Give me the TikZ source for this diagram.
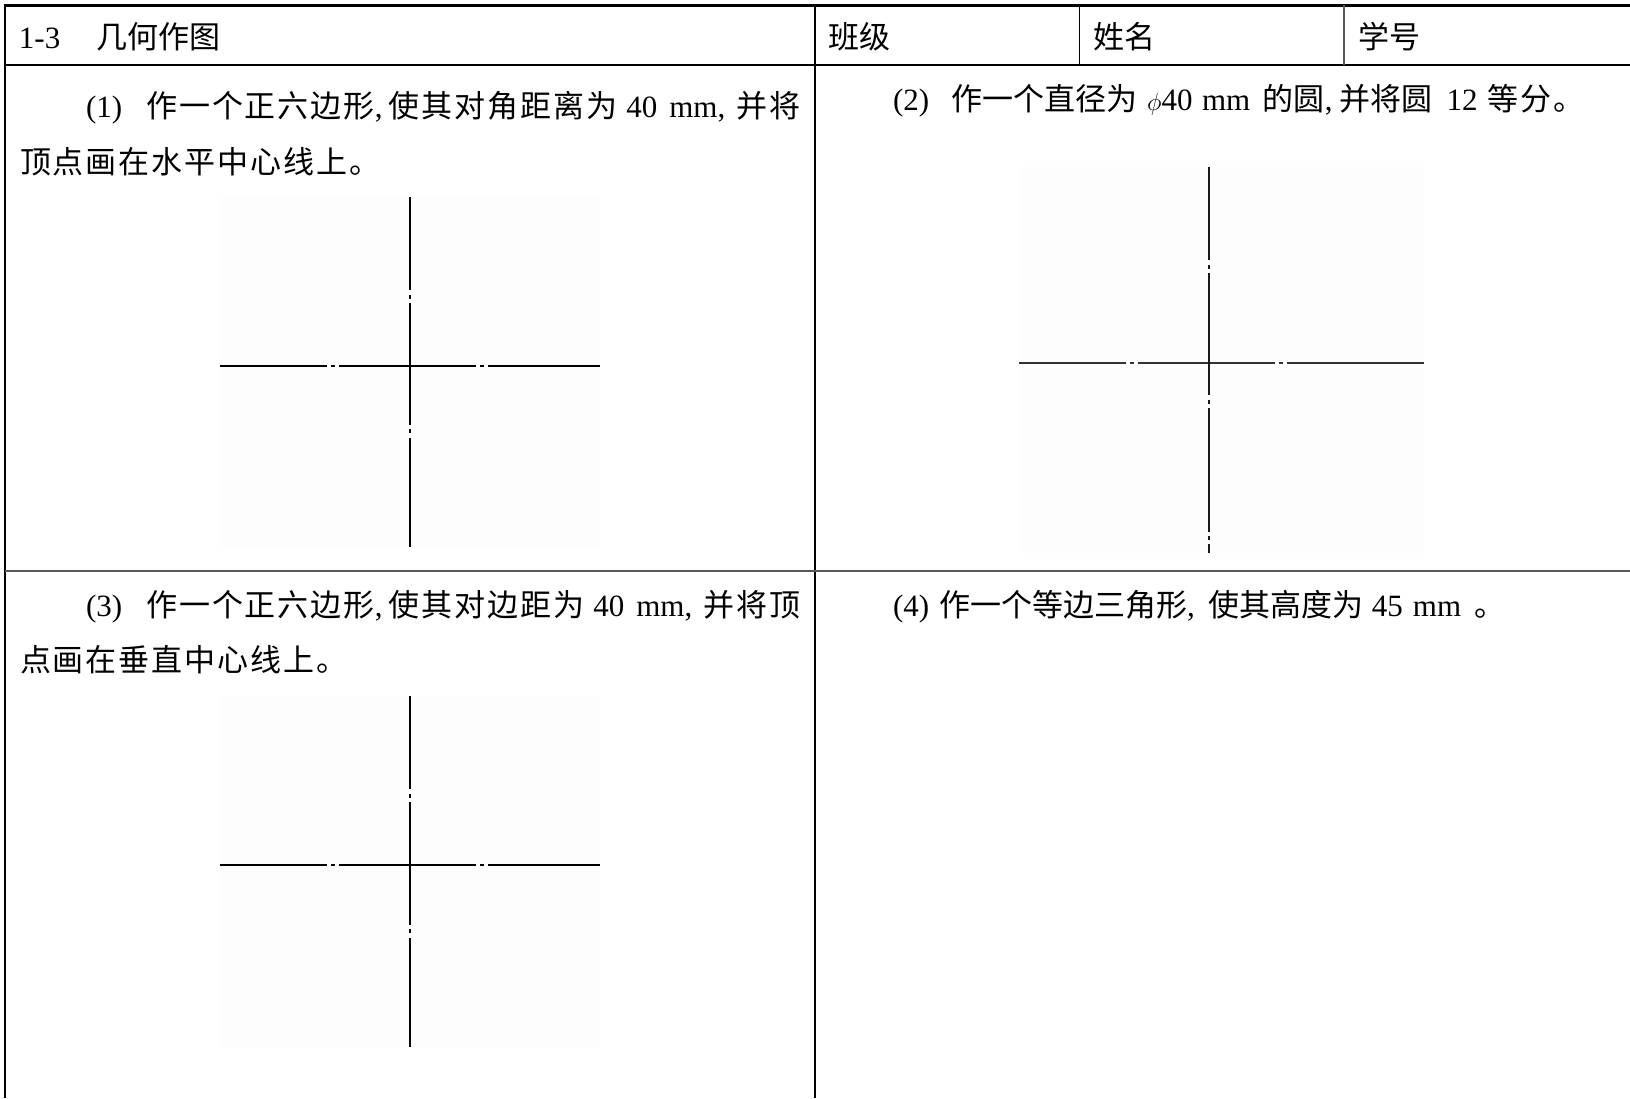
\documentclass[tikz,border=0pt]{standalone}
\usepackage{fontspec}
\setmainfont{Liberation Serif}
\newfontfamily\cjkwide[LetterSpace=6.3]{Noto Sans CJK SC}
\newfontfamily\cjknarrow{Noto Sans CJK SC}
\newcommand\zh[1]{{\cjkwide\fontsize{31}{31}\selectfont #1}}
\newcommand\zhn[1]{{\cjknarrow\fontsize{31}{31}\selectfont #1}}
\begin{document}
\begin{tikzpicture}[x=1pt,y=-1pt,
  txt/.style={anchor=base west,inner sep=0pt,outer sep=0pt,font=\fontsize{31}{31}\selectfont},
  rule/.style={line width=1.8pt,black},
  thinrule/.style={line width=1.6pt,black!65},
  cl/.style={line width=1.8pt,black},
  paper/.style={fill=black!0.6,draw=none}]
\useasboundingbox (0,0) rectangle (1630,1098);
\fill[white] (0,0) rectangle (1630,1098);
% table rules
\draw[line width=3pt] (3.5,5) -- (1630,5);
\draw[rule] (5,4) -- (5,1098);
\draw[rule] (5,65) -- (1630,65);
\draw[rule] (815,5) -- (815,1098);
\draw[rule] (1079.5,5) -- (1079.5,65);
\draw[thinrule] (1344,5) -- (1344,65);
\draw[thinrule] (5,571) -- (1630,571);
% header texts
\node[txt] (h1) at (19,48) {1-3};
\node[txt] (h2) at (96,48) {\zhn{几何作图}};
\node[txt] (h3) at (828,48) {\zhn{班级}};
\node[txt] (h4) at (1093,48) {\zhn{姓名}};
\node[txt] (h5) at (1358,48) {\zhn{学号}};
% task texts
\node[txt] (t1a) at (86,117) {(1)\hspace{24pt}\zh{作一个正六边形},\hspace{6pt}\zh{使其对角距离为}\hspace{9pt}40\hspace{12pt}mm,\hspace{11pt}\zh{并将}};
\node[txt] (t1b) at (20,173) {\zh{顶点画在水平中心线上。}};
\node[txt] (t2) at (893,110) {(2)\hspace{22pt}\zhn{作一个直径为}\hspace{10pt}$\phi$40\hspace{9.5pt}mm\hspace{12.5pt}\zhn{的圆},\hspace{7pt}\zhn{并将圆}\hspace{14pt}12\hspace{10pt}\zh{等分。}};
\node[txt] (t3a) at (86,616) {(3)\hspace{24pt}\zh{作一个正六边形},\hspace{6pt}\zh{使其对边距为}\hspace{9pt}40\hspace{12pt}mm,\hspace{11pt}\zh{并将顶}};
\node[txt] (t3b) at (20,671) {\zh{点画在垂直中心线上。}};
\node[txt] (t4) at (893,616) {(4)\hspace{10pt}\zhn{作一个等边三角形},\hspace{14pt}\zhn{使其高度为}\hspace{8pt}45\hspace{10pt}mm\hspace{13pt}\zhn{。}};
% drawing areas
\path[paper] (220,196.7) rectangle (600,546.7);
\path[paper] (1019,166.7) rectangle (1424,553);
\path[paper] (220,695.7) rectangle (600,1046.7);
% cross 1
\draw[cl] (220,366) -- (326.7,366) (331,366) -- (335,366) (339.3,366) -- (476,366)
  (480,366) -- (484,366) (488.3,366) -- (600,366);
\draw[cl] (410,196.7) -- (410,290) (410,295) -- (410,298.5) (410,302.7) -- (410,425)
  (410,429.3) -- (410,433.3) (410,438.3) -- (410,546.7);
% cross 2
\draw[cl,black!80] (1019,363.3) -- (1126,363.3) (1130,363.3) -- (1134,363.3) (1138.3,363.3) -- (1275.3,363.3)
  (1279,363.3) -- (1283,363.3) (1287.3,363.3) -- (1424,363.3);
\draw[cl,black!90] (1209,166.7) -- (1209,260) (1209,265) -- (1209,268.5) (1209,272.7) -- (1209,395)
  (1209,400) -- (1209,403.5) (1209,408.3) -- (1209,531.7) (1209,536) -- (1209,539.5) (1209,544.3) -- (1209,553);
% cross 3
\draw[cl] (220,865) -- (326.7,865) (331,865) -- (335,865) (339.3,865) -- (476,865)
  (480,865) -- (484,865) (488.3,865) -- (600,865);
\draw[cl] (410,695.7) -- (410,789.3) (410,794.3) -- (410,797.7) (410,802) -- (410,925)
  (410,929) -- (410,933.3) (410,938.3) -- (410,1046.7);
\end{tikzpicture}
\end{document}
